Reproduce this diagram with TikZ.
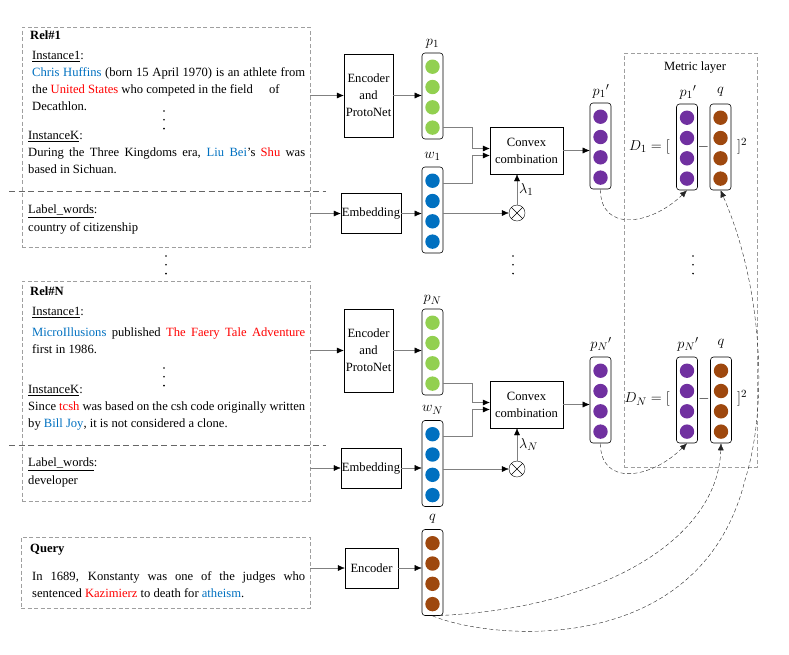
\documentclass[tikz,border=0pt]{standalone}
\usepackage{fontspec}
\setmainfont{Liberation Serif}
\usetikzlibrary{arrows.meta,positioning}
\definecolor{entblue}{RGB}{0,112,192}
\definecolor{entred}{RGB}{255,0,0}
\definecolor{protogreen}{RGB}{146,208,80}
\definecolor{protopurple}{RGB}{112,48,160}
\definecolor{querybrown}{RGB}{158,72,14}
\newcommand{\hb}[1]{\textcolor{entblue}{#1}}
\newcommand{\hr}[1]{\textcolor{entred}{#1}}
% vector of four dots: name, x, y, colour
\newcommand{\dotvec}[4]{%
  \node[vecbox] (#1) at (#2,#3) {};
  \foreach \k in {0,...,3}
    \fill[#4] ([yshift={-14-20.3*\k}]#1.north) circle (7.2pt);}
\newcommand{\threedots}[2]{%
  \foreach \k in {0,...,2} \fill (#1,#2+8.8*\k) circle (0.9pt);}
\tikzset{
  relbox/.style={draw=gray!75, dashed, dash pattern=on 4pt off 2.5pt, minimum width=288, inner sep=0},
  sepline/.style={draw=black!60, dash pattern=on 6pt off 3.5pt},
  blockbox/.style={draw, align=center, inner sep=1pt, minimum width=49, minimum height=83},
  vecbox/.style={draw, rounded corners=3pt, minimum width=21, minimum height=86, inner sep=0, line width=0.6pt},
  txt/.style={anchor=north west, inner sep=0, align=justify},
  arr/.style={draw=black!50, -{Latex[black, length=7pt, width=6pt]}},
  curvearr/.style={draw=black!85, dashed, dash pattern=on 4pt off 2.5pt, -{Latex[length=7pt, width=6pt]}},
  veclab/.style={font=\fontsize{15}{17}\selectfont, inner sep=0},
  eqlab/.style={font=\fontsize{15}{17}\selectfont, inner sep=0},
  otimes/.style={draw, circle, minimum size=16, inner sep=0},
}
\begin{document}
\begin{tikzpicture}[x=1pt, y=-1pt, font=\fontsize{12.6}{17}\selectfont]
\useasboundingbox (0,0) rectangle (789,654);
% support set, relation 1
\node[relbox, minimum height=220] (rel1) at (166,137) {};
\draw[sepline] (9,191) -- (326,191);
\node[txt] (rel1t) at (30,31) {\textbf{Rel\#1}};
\node[txt] (ins11) at (32,51) {\underline{Instance1}:};
\node[txt, text width=273] (ins11t) at (32,67) {\hb{Chris Huffins} (born 15 April 1970) is an athlete from\linebreak
  the \hr{United States} who competed in the field\hspace{16pt}of\\ Decathlon.};
\threedots{164}{111}
\node[txt] (ins1k) at (28,131) {\underline{InstanceK}:};
\node[txt, text width=277] (ins1kt) at (28,148) {During the Three Kingdoms era, \hb{Liu Bei}'s \hr{Shu} was\linebreak based in Sichuan.};
\node[txt] (lab1) at (28,205) {\underline{Label\_words}:};
\node[txt] (lab1t) at (28,222) {country of citizenship};
\threedots{166}{256}
% support set, relation N
\node[relbox, minimum height=220] (relN) at (166,391) {};
\draw[sepline] (9,445) -- (326,445);
\node[txt] (relNt) at (30,287) {\textbf{Rel\#N}};
\node[txt] (insN1) at (32,307) {\underline{Instance1}:};
\node[txt, text width=273] (insN1t) at (32,328) {\hb{MicroIllusions} published \hr{The Faery Tale Adventure}\linebreak first in 1986.};
\threedots{164}{368}
\node[txt] (insNk) at (28,385) {\underline{InstanceK}:};
\node[txt, text width=277] (insNkt) at (28,402) {Since \hr{tcsh} was based on the csh code originally written\linebreak
  by \hb{Bill Joy}, it is not considered a clone.};
\node[txt] (labN) at (28,458) {\underline{Label\_words}:};
\node[txt] (labNt) at (28,476) {developer};
% query
\node[relbox, minimum width=289, minimum height=71] (qry) at (165.5,572.5) {};
\node[txt] (qryt) at (30,544) {\textbf{Query}};
\node[txt, text width=273] (qrys) at (32,571) {In 1689, Konstanty was one of the judges who\linebreak
  sentenced \hr{Kazimierz} to death for \hb{atheism}.};
% relation 1 branch
\node[blockbox] (enc1) at (368.5,95.5) {Encoder\\and\\ProtoNet};
\node[blockbox, minimum width=60, minimum height=40] (emb1) at (371,213.5) {Embedding};
\node[blockbox, minimum width=73, minimum height=47] (conv1) at (526.5,150.5) {Convex\\combination};
\node[otimes] (ot1) at (517,213) {};
\draw (ot1.north west) -- (ot1.south east) (ot1.north east) -- (ot1.south west);
\dotvec{p1}{432.5}{96}{protogreen}
\dotvec{w1}{432.5}{210}{entblue}
\dotvec{p1p}{600.5}{146}{protopurple}
\node[veclab] at (432.5,44) {$p_1$};
\node[veclab] at (432.5,156) {$w_1$};
\node[veclab] at (601,91) {$p_1{}'$};
\path[arr] (rel1.east |- enc1) -- (enc1);
\path[arr] (enc1.east) -- (enc1.east -| p1.west);
\path[arr] (rel1.east |- emb1) -- (emb1);
\path[arr] (emb1.east) -- (emb1.east -| w1.west);
\path[arr] ([yshift=12]p1.south east) -- ++(29,0) |- ([yshift=2]conv1.west);
\path[arr] ([yshift=-16]w1.north east) -- ++(29,0) |- ([yshift=-5]conv1.west);
\path[arr] (w1.east |- ot1) -- (ot1);
\path[arr] (ot1) -- (ot1 |- conv1.south) node[midway, right=2pt, veclab]{$\lambda_1$};
\path[arr] (conv1.east) -- (conv1.east -| p1p.west);
\threedots{513}{256}
% relation N branch
\node[blockbox] (encN) at (368.5,350.5) {Encoder\\and\\ProtoNet};
\node[blockbox, minimum width=60, minimum height=40] (embN) at (371,468) {Embedding};
\node[blockbox, minimum width=73, minimum height=47] (convN) at (526.5,404.5) {Convex\\combination};
\node[otimes] (otN) at (517,469) {};
\draw (otN.north west) -- (otN.south east) (otN.north east) -- (otN.south west);
\dotvec{pN}{432.5}{352}{protogreen}
\dotvec{wN}{432.5}{463.5}{entblue}
\dotvec{pNp}{600.5}{400}{protopurple}
\node[veclab] at (432.5,300) {$p_N$};
\node[veclab] at (432.5,410) {$w_N$};
\node[veclab] at (601,344) {$p_N{}'$};
\path[arr] (relN.east |- encN) -- (encN);
\path[arr] (encN.east) -- (encN.east -| pN.west);
\path[arr] (relN.east |- embN) -- (embN);
\path[arr] (embN.east) -- (embN.east -| wN.west);
\path[arr] ([yshift=12]pN.south east) -- ++(29,0) |- ([yshift=2]convN.west);
\path[arr] ([yshift=-16]wN.north east) -- ++(29,0) |- ([yshift=-5]convN.west);
\path[arr] (wN.east |- otN) -- (otN);
\path[arr] (otN) -- (otN |- convN.south) node[midway, right=2pt, veclab]{$\lambda_N$};
\path[arr] (convN.east) -- (convN.east -| pNp.west);
% query branch
\node[blockbox, minimum width=53, minimum height=40] (encQ) at (371.5,568) {Encoder};
\dotvec{qv}{432.5}{572.5}{querybrown}
\node[veclab] at (432.5,519) {$q$};
\path[arr] (qry.east |- encQ) -- (encQ);
\path[arr] (encQ.east) -- (encQ.east -| qv.west);
% metric layer
\node[relbox, minimum width=133, minimum height=414] (metric) at (690.5,260) {};
\node at (695,67) {Metric layer};
\dotvec{m1p}{687}{147}{protopurple}
\dotvec{m1q}{720.5}{147}{querybrown}
\node[veclab] at (688,92) {$p_1{}'$};
\node[veclab] at (720.5,92) {$q$};
\node[eqlab, anchor=east] (d1) at (670,147) {$D_1=[$};
\node[eqlab] (d1m) at (703.5,147) {$-$};
\node[eqlab, anchor=west] (d1b) at (737,146) {$]^2$};
\threedots{693}{256}
\dotvec{mNp}{687}{400}{protopurple}
\dotvec{mNq}{721}{400}{querybrown}
\node[veclab] at (688,344) {$p_N{}'$};
\node[veclab] at (721,344) {$q$};
\node[eqlab, anchor=east] (dN) at (670,399) {$D_N=[$};
\node[eqlab] (dNm) at (704,399) {$-$};
\node[eqlab, anchor=west] (dNb) at (737,398) {$]^2$};
% dashed links into the metric layer
\draw[curvearr] (p1p.south) .. controls (600,232) and (650,226) .. (m1p.south);
\draw[curvearr] (pNp.south) .. controls (600,486) and (650,480) .. (mNp.south);
\draw[curvearr] (qv.south) .. controls (600,610) and (718,540) .. (mNq.south);
\draw[curvearr] (qv.south) .. controls (490,640) and (700,660) .. (745,480)
  .. controls (770,400) and (760,280) .. (m1q.south);
\end{tikzpicture}
\end{document}
